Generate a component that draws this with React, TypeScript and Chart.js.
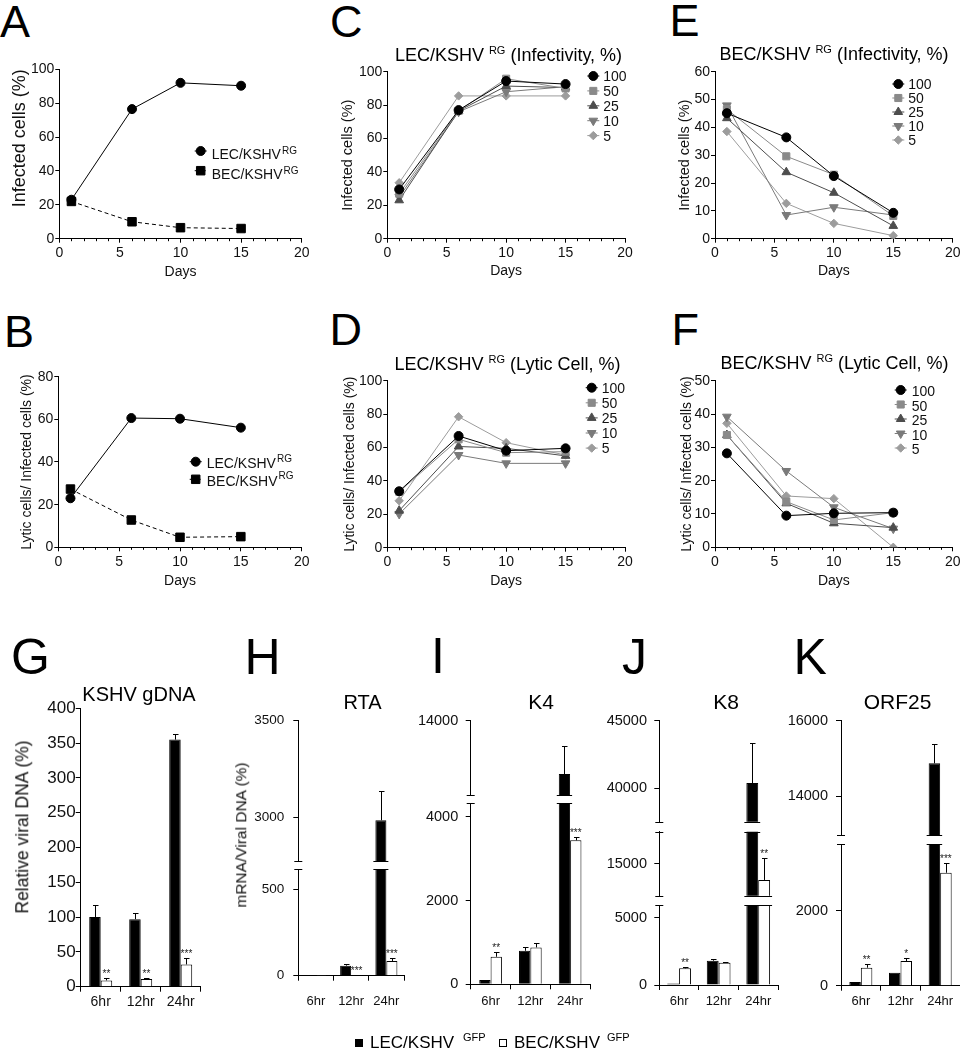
import React, { useEffect, useRef } from 'react';
import { Chart, registerables } from 'chart.js';

Chart.register(...registerables);

const FONT = '"Liberation Sans", Arial, Helvetica, sans-serif';
const INK = '#111111';
Chart.defaults.font.family = FONT;
Chart.defaults.color = INK;

// ---------------- Data: panels A–F (x = days) ----------------
const days = [1, 6, 10, 15];

const lecRG_A = [23, 76.5, 92, 90.3];
const becRG_A = [22, 10, 6.5, 6];
const lecRG_B = [23, 60.6, 60.3, 56.1];
const becRG_B = [27.3, 12.8, 4.7, 5];
const rgLabels = ['LEC/KSHV', 'BEC/KSHV'];

const doseLabels = ['100', '50', '25', '10', '5'];

const c100 = [29.5, 77, 94.4, 92.6];
const c50 = [27, 76.5, 95.8, 90];
const c25 = [23, 76.5, 91.4, 90.5];
const c10 = [25, 76, 88, 91];
const c5 = [33.5, 85.5, 85.5, 85.5];

const d100 = [33.8, 66.9, 58.1, 59.5];
const d50 = [33.5, 64.9, 56.9, 57.5];
const d25 = [22.2, 60.6, 59.5, 55];
const d10 = [20.2, 55.5, 50.5, 50.5];
const d5 = [28.1, 78.4, 62.9, 55.5];

const e100 = [45.1, 36.4, 22.5, 9.3];
const e50 = [46.5, 29.6, 23, 8.2];
const e25 = [43.3, 23.9, 16.5, 4.6];
const e10 = [47.9, 8.5, 11.3, 8.5];
const e5 = [38.5, 12.7, 5.5, 1.1];

const f100 = [28.2, 9.5, 10.2, 10.4];
const f50 = [33.7, 13.7, 8.2, 10.4];
const f25 = [33.7, 13.2, 7.2, 5.9];
const f10 = [39.2, 22.9, 12, 5.6];
const f5 = [37.2, 15.4, 14.6, 0];

// ---------------- Data: panels G–K ----------------
const timeLabels = ['6hr', '12hr', '24hr'];

const gLEC = [100, 97, 355];
const gLECerr = [18, 9, 8];
const gBEC = [9, 11, 32];
const gBECerr = [4, 2, 9];
const gStars = ['**', '**', '***'];
const gTicks = [0, 50, 100, 150, 200, 250, 300, 350, 400];

const hLEC = [1, 58, 2985];
const hLECerr = [0, 8, 150];
const hBEC = [0.5, 3, 85];
const hBECerr = [0, 1, 15];
const hStars = ['', '***', '***'];
const hTicksUpper = [3000, 3500];
const hTicksLower = [0, 500];
const hRangeUpper = [2774, 3500];
const hRangeLower = [0, 614];

const iLEC = [100, 800, 11130];
const iLECerr = [0, 80, 1520];
const iBEC = [657, 880, 3436];
const iBECerr = [119, 110, 71];
const iStars = ['**', '', '***'];
const iTicksUpper = [14000];
const iTicksLower = [0, 2000, 4000];
const iRangeUpper = [10000, 14000];
const iRangeLower = [0, 4320];

const jLEC = [110, 1805, 40370];
const jLECerr = [0, 105, 2960];
const jBEC = [1240, 1657, 13730];
const jBECerr = [120, 73, 1690];
const jStars = ['**', '', '**'];
const jTicksUpper = [40000, 45000];
const jTicksMiddle = [15000];
const jTicksLower = [0, 5000];
const jRangeUpper = [37500, 45000];
const jRangeMiddle = [12500, 17500];
const jRangeLower = [0, 5920];

const kLEC = [100, 347, 14868];
const kLECerr = [0, 0, 505];
const kBEC = [480, 659, 3013];
const kBECerr = [90, 71, 251];
const kStars = ['**', '*', '***'];
const kTicksUpper = [14000, 16000];
const kTicksLower = [0, 2000];
const kRangeUpper = [12965, 16000];
const kRangeLower = [0, 3780];

const gfpLabels = ['LEC/KSHV', 'BEC/KSHV'];

// ---------------- Styles ----------------
const abStyles = [
  { color: '#000', style: 'circle', rot: 0, r: 4.5, dash: [] as number[] },
  { color: '#000', style: 'rect', rot: 0, r: 6, dash: [4, 3] },
];
const doseStyles = [
  { color: '#000000', style: 'circle', rot: 0, r: 4.5, dash: [] as number[] },
  { color: '#8a8a8a', style: 'rect', rot: 0, r: 5, dash: [] as number[] },
  { color: '#4d4d4d', style: 'triangle', rot: 0, r: 5, dash: [] as number[] },
  { color: '#7a7a7a', style: 'triangle', rot: 180, r: 5, dash: [] as number[] },
  { color: '#9c9c9c', style: 'rectRot', rot: 0, r: 4.2, dash: [] as number[] },
];

type Rect = { x: number; y: number; w: number; h: number };

function drawMarker(ctx: CanvasRenderingContext2D, style: string, x: number, y: number, r: number, rot: number, color: string) {
  ctx.save();
  ctx.fillStyle = color;
  ctx.strokeStyle = color;
  ctx.lineWidth = 1;
  ctx.beginPath();
  if (style === 'circle') {
    ctx.arc(x, y, r, 0, Math.PI * 2);
  } else if (style === 'rect') {
    const s = Math.SQRT1_2 * r;
    ctx.rect(x - s, y - s, 2 * s, 2 * s);
  } else if (style === 'rectRot') {
    ctx.moveTo(x, y - r);
    ctx.lineTo(x + r, y);
    ctx.lineTo(x, y + r);
    ctx.lineTo(x - r, y);
    ctx.closePath();
  } else {
    let a = (rot * Math.PI) / 180;
    ctx.moveTo(x + Math.sin(a) * r, y - Math.cos(a) * r);
    a += (2 * Math.PI) / 3;
    ctx.lineTo(x + Math.sin(a) * r, y - Math.cos(a) * r);
    a += (2 * Math.PI) / 3;
    ctx.lineTo(x + Math.sin(a) * r, y - Math.cos(a) * r);
    ctx.closePath();
  }
  ctx.fill();
  ctx.stroke();
  ctx.restore();
}

const minorTicks = {
  id: 'minorTicks',
  afterDraw(chart: any) {
    const xs = chart.scales.x;
    const ctx = chart.ctx;
    const b = chart.chartArea.bottom;
    ctx.save();
    ctx.strokeStyle = '#000';
    ctx.lineWidth = 1;
    ctx.beginPath();
    for (let v = 1; v < 20; v++) {
      if (v % 5 === 0) continue;
      const px = Math.round(xs.getPixelForValue(v)) + 0.5;
      ctx.moveTo(px, b);
      ctx.lineTo(px, b + 2.5);
    }
    ctx.stroke();
    ctx.restore();
  },
};

function lineLegend(spec: any) {
  const lg = spec.legend;
  const cv = spec.canvas;
  return {
    id: 'panelLegend',
    afterDraw(chart: any) {
      const ctx = chart.ctx;
      spec.series.forEach((s: any, i: number) => {
        const my = lg.y0 + i * lg.dy - cv.y;
        const mx = lg.markerX - cv.x;
        ctx.save();
        ctx.strokeStyle = s.color;
        ctx.lineWidth = 1;
        ctx.setLineDash(s.dash || []);
        ctx.beginPath();
        ctx.moveTo(mx - 6, my);
        ctx.lineTo(mx + 6, my);
        ctx.stroke();
        ctx.restore();
        drawMarker(ctx, s.style, mx, my, s.r, s.rot, s.color);
        ctx.save();
        ctx.fillStyle = INK;
        ctx.font = `${lg.size}px ${FONT}`;
        ctx.textAlign = 'left';
        ctx.textBaseline = 'alphabetic';
        const tx = lg.textX - cv.x;
        ctx.fillText(s.label, tx, my + lg.textDy);
        if (lg.sup) {
          const w = ctx.measureText(s.label).width;
          ctx.font = `${lg.supSize}px ${FONT}`;
          ctx.fillText(lg.sup, tx + w + 1, my + lg.supDy);
        }
        ctx.restore();
      });
    },
  };
}

function lineConfig(spec: any) {
  const c = spec.canvas;
  const padTop = spec.plot.t - c.y;
  const padRight = c.x + c.w - spec.plot.r;
  const yWidth = spec.plot.l - c.x;
  const xHeight = c.y + c.h - spec.plot.b;
  const yTitlePad = spec.yTitleX - c.x - (spec.yTitleSize * 1.2) / 2;
  const xTitlePad = c.y + c.h - spec.daysY - (14 * 1.2) / 2;
  return {
    type: 'line',
    data: {
      datasets: spec.series.map((s: any) => ({
        label: s.label,
        data: days.map((d, i) => ({ x: d, y: s.data[i] })),
        borderColor: s.color,
        backgroundColor: s.color,
        pointBackgroundColor: s.color,
        pointBorderColor: s.color,
        pointStyle: s.style,
        pointRotation: s.rot,
        pointRadius: s.r,
        pointBorderWidth: 1,
        borderWidth: 1,
        borderDash: s.dash,
        tension: 0,
        fill: false,
      })),
    },
    options: {
      responsive: false,
      animation: false,
      devicePixelRatio: 1,
      events: [],
      layout: { padding: { top: padTop, right: padRight, left: 0, bottom: 0 } },
      plugins: { legend: { display: false }, tooltip: { enabled: false }, title: { display: false } },
      scales: {
        x: {
          type: 'linear',
          min: 0,
          max: 20,
          ticks: { stepSize: 5, font: { size: 14 }, color: INK, padding: 2, maxRotation: 0, autoSkip: false },
          grid: { drawOnChartArea: false, drawTicks: true, tickLength: 4, color: '#000' },
          border: { color: '#000', width: 1 },
          title: { display: true, text: 'Days', color: INK, font: { size: 14 }, padding: { top: 0, bottom: xTitlePad } },
          afterFit: (sc: any) => {
            sc.height = xHeight;
            sc.paddingLeft = 0;
            sc.paddingRight = 0;
          },
        },
        y: {
          type: 'linear',
          min: 0,
          max: spec.yMax,
          ticks: { stepSize: spec.yStep, font: { size: 14 }, color: INK, padding: 1 },
          grid: { drawOnChartArea: false, drawTicks: true, tickLength: 4, color: '#000' },
          border: { color: '#000', width: 1 },
          title: {
            display: true,
            text: spec.yTitle,
            color: INK,
            align: spec.yTitleAlign || 'center',
            font: { size: spec.yTitleSize },
            padding: { top: yTitlePad, bottom: 0 },
          },
          afterFit: (sc: any) => {
            sc.width = yWidth;
            sc.paddingTop = 0;
            sc.paddingBottom = 0;
          },
        },
      },
    },
    plugins: [minorTicks, lineLegend(spec)],
  };
}

function barExtras(p: any, k: number) {
  const seg = p.segs[k];
  const last = p.segs.length - 1;
  const vals = [p.lec, p.bec];
  const errs = [p.lecErr, p.becErr];
  return {
    id: 'barExtras',
    afterDatasetsDraw(chart: any) {
      const ctx = chart.ctx;
      const ca = chart.chartArea;
      const ys = chart.scales.y;
      // error bars (upper only), clipped to the segment
      ctx.save();
      ctx.beginPath();
      ctx.rect(ca.left - 10, ca.top, ca.right - ca.left + 20, ca.bottom - ca.top);
      ctx.clip();
      ctx.strokeStyle = '#000';
      ctx.lineWidth = 1;
      for (let d = 0; d < 2; d++) {
        chart.getDatasetMeta(d).data.forEach((bar: any, i: number) => {
          const e = errs[d][i];
          if (!e) return;
          const x = Math.round(bar.x) + 0.5;
          const y0 = ys.getPixelForValue(vals[d][i]);
          const y1 = Math.round(ys.getPixelForValue(vals[d][i] + e)) + 0.5;
          ctx.beginPath();
          ctx.moveTo(x, y0);
          ctx.lineTo(x, y1);
          ctx.moveTo(x - 2.5, y1);
          ctx.lineTo(x + 3, y1);
          ctx.stroke();
        });
      }
      ctx.restore();
      // axis breaks
      ctx.save();
      ctx.strokeStyle = '#000';
      ctx.lineWidth = 1;
      const edges: any[] = [];
      if (k > 0) edges.push({ y: ca.top, test: (v: number) => v > seg.max });
      if (k < last) edges.push({ y: ca.bottom, test: (v: number) => v > seg.min });
      edges.forEach((ed) => {
        const yy = Math.round(ed.y) + 0.5;
        ctx.beginPath();
        ctx.moveTo(ca.left - 4, yy);
        ctx.lineTo(ca.left + 4, yy);
        for (let d = 0; d < 2; d++) {
          chart.getDatasetMeta(d).data.forEach((bar: any, i: number) => {
            if (ed.test(vals[d][i])) {
              const w = bar.width;
              ctx.moveTo(bar.x - w / 2 - 2, yy);
              ctx.lineTo(bar.x + w / 2 + 2, yy);
            }
          });
        }
        ctx.stroke();
      });
      // significance stars
      ctx.fillStyle = '#222';
      ctx.font = `10px ${FONT}`;
      ctx.textAlign = 'center';
      ctx.textBaseline = 'alphabetic';
      chart.getDatasetMeta(1).data.forEach((bar: any, i: number) => {
        const s = p.stars[i];
        if (!s) return;
        const top = p.bec[i] + p.becErr[i];
        if (top < seg.min || top > seg.max) return;
        ctx.fillText(s, bar.x, ys.getPixelForValue(top) - 1);
      });
      ctx.restore();
    },
  };
}

function segRect(p: any, k: number): Rect {
  const seg = p.segs[k];
  const x = Math.floor(p.axisX - 78);
  const right = Math.min(960, Math.ceil(p.right + 4));
  const y = Math.floor(seg.top - 12);
  const bottom = k === p.segs.length - 1 ? 1016 : Math.ceil(seg.bottom + 6);
  return { x, y, w: right - x, h: bottom - y };
}

function barSegConfig(p: any, k: number, rect: Rect) {
  const seg = p.segs[k];
  const last = p.segs.length - 1;
  const showX = k === last;
  const padTop = seg.top - rect.y;
  const padRight = rect.x + rect.w - p.right;
  const yWidth = p.axisX - rect.x;
  const below = rect.y + rect.h - seg.bottom;
  const xLabelPad = 1001.7 - seg.bottom - 5 - (p.xFont * 1.2) / 2;
  const ds = (label: string, data: number[], fill: string) => ({
    label,
    data,
    backgroundColor: fill,
    borderColor: '#000',
    borderWidth: 1,
    borderSkipped: 'start',
    categoryPercentage: p.catPct,
    barPercentage: 1,
    clip: 0,
  });
  return {
    type: 'bar',
    data: {
      labels: timeLabels,
      datasets: [ds(gfpLabels[0] + ' GFP', p.lec, '#000'), ds(gfpLabels[1] + ' GFP', p.bec, '#fff')],
    },
    options: {
      responsive: false,
      animation: false,
      devicePixelRatio: 1,
      events: [],
      layout: { padding: { top: padTop, right: padRight, left: 0, bottom: showX ? 0 : below } },
      plugins: { legend: { display: false }, tooltip: { enabled: false }, title: { display: false } },
      scales: {
        x: showX
          ? {
              type: 'category',
              offset: true,
              grid: { offset: true, drawOnChartArea: false, drawTicks: true, tickLength: 5, color: '#000' },
              border: { color: '#000', width: 1 },
              ticks: { font: { size: p.xFont }, color: INK, padding: xLabelPad, maxRotation: 0, autoSkip: false },
              afterFit: (sc: any) => {
                sc.height = below;
                sc.paddingLeft = 0;
                sc.paddingRight = 0;
              },
            }
          : { type: 'category', offset: true, display: false },
        y: {
          type: 'linear',
          min: seg.min,
          max: seg.max,
          afterBuildTicks: (sc: any) => {
            sc.ticks = seg.ticks.map((v: number) => ({ value: v }));
          },
          ticks: { font: { size: p.yFont }, color: INK, padding: p.yPad, callback: (v: any) => String(v) },
          grid: { drawOnChartArea: false, drawTicks: true, tickLength: 5, color: '#000' },
          border: { color: '#000', width: 1 },
          afterFit: (sc: any) => {
            sc.width = yWidth;
            sc.paddingTop = 0;
            sc.paddingBottom = 0;
          },
        },
      },
    },
    plugins: [barExtras(p, k)],
  };
}

// ---------------- Panel specs ----------------
const abSeries = (lec: number[], bec: number[]) => [
  { label: rgLabels[0], data: lec, ...abStyles[0] },
  { label: rgLabels[1], data: bec, ...abStyles[1] },
];
const doseSeries = (arrs: number[][]) => doseLabels.map((lab, i) => ({ label: lab, data: arrs[i], ...doseStyles[i] }));

const lineSpecs = [
  {
    key: 'A',
    canvas: { x: 0, y: 40, w: 320, h: 250 },
    plot: { l: 59.3, t: 69.3, r: 301.7, b: 238.7 },
    yMax: 100, yStep: 20, yTitle: 'Infected cells (%)', yTitleSize: 18, yTitleX: 20, yTitleAlign: 'end', daysY: 272.5,
    series: abSeries(lecRG_A, becRG_A),
    legend: { markerX: 200.7, textX: 211.7, y0: 151, dy: 19.7, size: 14, textDy: 8.3, sup: 'RG', supSize: 10, supDy: 3 },
  },
  {
    key: 'B',
    canvas: { x: 0, y: 340, w: 320, h: 250 },
    plot: { l: 58.3, t: 376.7, r: 301.7, b: 547.3 },
    yMax: 80, yStep: 20, yTitle: 'Lytic cells/ Infected cells (%)', yTitleSize: 14, yTitleX: 27, daysY: 581,
    series: abSeries(lecRG_B, becRG_B),
    legend: { markerX: 195.7, textX: 206.7, y0: 461.7, dy: 17.6, size: 14, textDy: 6.6, sup: 'RG', supSize: 10, supDy: 0 },
  },
  {
    key: 'C',
    canvas: { x: 320, y: 40, w: 320, h: 250 },
    plot: { l: 387.3, t: 71.7, r: 625, b: 238.7 },
    yMax: 100, yStep: 20, yTitle: 'Infected cells (%)', yTitleSize: 14.5, yTitleX: 348.3, daysY: 271,
    series: doseSeries([c100, c50, c25, c10, c5]),
    legend: { markerX: 593.3, textX: 603.3, y0: 76, dy: 14.9, size: 14, textDy: 5 },
  },
  {
    key: 'D',
    canvas: { x: 320, y: 340, w: 320, h: 250 },
    plot: { l: 387.3, t: 380.7, r: 625, b: 547.7 },
    yMax: 100, yStep: 20, yTitle: 'Lytic cells/ Infected cells (%)', yTitleSize: 14, yTitleX: 350, daysY: 581.5,
    series: doseSeries([d100, d50, d25, d10, d5]),
    legend: { markerX: 591.7, textX: 601.7, y0: 387.7, dy: 15.1, size: 14, textDy: 5 },
  },
  {
    key: 'E',
    canvas: { x: 640, y: 40, w: 320, h: 250 },
    plot: { l: 715, t: 71.7, r: 952.7, b: 238.7 },
    yMax: 60, yStep: 10, yTitle: 'Infected cells (%)', yTitleSize: 14.5, yTitleX: 685, daysY: 271,
    series: doseSeries([e100, e50, e25, e10, e5]),
    legend: { markerX: 898.3, textX: 908.3, y0: 84, dy: 14, size: 14, textDy: 5.3 },
  },
  {
    key: 'F',
    canvas: { x: 640, y: 340, w: 320, h: 250 },
    plot: { l: 715, t: 380.7, r: 952.7, b: 547.3 },
    yMax: 50, yStep: 10, yTitle: 'Lytic cells/ Infected cells (%)', yTitleSize: 14, yTitleX: 686.7, daysY: 581,
    series: doseSeries([f100, f50, f25, f10, f5]),
    legend: { markerX: 900.7, textX: 911.7, y0: 390, dy: 14.5, size: 14, textDy: 6 },
  },
];

const barPanels = [
  {
    key: 'G', axisX: 80.7, right: 200.7, catPct: 0.575, yFont: 17, yPad: 0, xFont: 14,
    lec: gLEC, lecErr: gLECerr, bec: gBEC, becErr: gBECerr, stars: gStars,
    segs: [{ min: 0, max: 400, ticks: gTicks, top: 708.3, bottom: 986.7 }],
  },
  {
    key: 'H', axisX: 298.3, right: 404, catPct: 0.625, yFont: 13.5, yPad: 9, xFont: 13,
    lec: hLEC, lecErr: hLECerr, bec: hBEC, becErr: hBECerr, stars: hStars,
    segs: [
      { min: hRangeUpper[0], max: hRangeUpper[1], ticks: hTicksUpper, top: 720.7, bottom: 861 },
      { min: hRangeLower[0], max: hRangeLower[1], ticks: hTicksLower, top: 869.3, bottom: 975.7 },
    ],
  },
  {
    key: 'I', axisX: 470.7, right: 590, catPct: 0.57, yFont: 14.5, yPad: 7.5, xFont: 13,
    lec: iLEC, lecErr: iLECerr, bec: iBEC, becErr: iBECerr, stars: iStars,
    segs: [
      { min: iRangeUpper[0], max: iRangeUpper[1], ticks: iTicksUpper, top: 720.7, bottom: 795 },
      { min: iRangeLower[0], max: iRangeLower[1], ticks: iTicksLower, top: 803.3, bottom: 984.3 },
    ],
  },
  {
    key: 'J', axisX: 659.3, right: 778, catPct: 0.6, yFont: 14.5, yPad: 7.3, xFont: 13,
    lec: jLEC, lecErr: jLECerr, bec: jBEC, becErr: jBECerr, stars: jStars,
    segs: [
      { min: jRangeUpper[0], max: jRangeUpper[1], ticks: jTicksUpper, top: 720.7, bottom: 821.7 },
      { min: jRangeMiddle[0], max: jRangeMiddle[1], ticks: jTicksMiddle, top: 831.7, bottom: 895.7 },
      { min: jRangeLower[0], max: jRangeLower[1], ticks: jTicksLower, top: 905.3, bottom: 985 },
    ],
  },
  {
    key: 'K', axisX: 841, right: 960, catPct: 0.58, yFont: 14.5, yPad: 8, xFont: 13,
    lec: kLEC, lecErr: kLECerr, bec: kBEC, becErr: kBECerr, stars: kStars,
    segs: [
      { min: kRangeUpper[0], max: kRangeUpper[1], ticks: kTicksUpper, top: 720.7, bottom: 835 },
      { min: kRangeLower[0], max: kRangeLower[1], ticks: kTicksLower, top: 844, bottom: 985.7 },
    ],
  },
];

// ---------------- Components ----------------
function ChartBox({ rect, build }: { rect: Rect; build: () => any }) {
  const ref = useRef<HTMLCanvasElement | null>(null);
  useEffect(() => {
    if (!ref.current) return undefined;
    const chart = new Chart(ref.current, build());
    return () => chart.destroy();
  }, []);
  return (
    <canvas
      ref={ref}
      width={rect.w}
      height={rect.h}
      style={{ position: 'absolute', left: rect.x, top: rect.y, width: rect.w, height: rect.h }}
    />
  );
}

function Sup({ size, dy, children }: { size: number; dy: number; children: any }) {
  return (
    <span style={{ fontSize: size, position: 'relative', top: -dy, lineHeight: 0, verticalAlign: 'baseline' }}>{children}</span>
  );
}

// text positioned by its baseline
function T({ x, base, size, center, children }: { x: number; base: number; size: number; center?: boolean; children: any }) {
  const top = base - 0.8465 * size;
  const style: any = {
    position: 'absolute',
    top,
    fontSize: size,
    lineHeight: `${size}px`,
    whiteSpace: 'nowrap',
    color: '#000',
  };
  if (center) {
    style.left = x - 300;
    style.width = 600;
    style.textAlign = 'center';
  } else {
    style.left = x;
  }
  return <div style={style}>{children}</div>;
}

function VTitle({ cx, cy, size, children }: { cx: number; cy: number; size: number; children: any }) {
  return (
    <div
      style={{
        position: 'absolute',
        left: cx,
        top: cy,
        fontSize: size,
        lineHeight: `${size}px`,
        whiteSpace: 'nowrap',
        color: INK,
        transform: 'translate(-50%, -50%) rotate(-90deg)',
      }}
    >
      {children}
    </div>
  );
}

const letters = [
  { t: 'A', x: 0, base: 37.5, size: 45 },
  { t: 'B', x: 4, base: 347, size: 45 },
  { t: 'C', x: 330, base: 37, size: 45 },
  { t: 'D', x: 329.5, base: 345, size: 45 },
  { t: 'E', x: 669.5, base: 36, size: 45 },
  { t: 'F', x: 671.5, base: 345, size: 45 },
  { t: 'G', x: 11, base: 674, size: 50 },
  { t: 'H', x: 244.5, base: 674, size: 50 },
  { t: 'I', x: 431, base: 673, size: 50 },
  { t: 'J', x: 622, base: 674, size: 50 },
  { t: 'K', x: 793.5, base: 674, size: 50 },
];

export default function App() {
  return (
    <div
      style={{
        position: 'absolute',
        left: 0,
        top: 0,
        width: 960,
        height: 1050,
        background: '#fff',
        fontFamily: FONT,
        color: '#000',
        overflow: 'hidden',
      }}
    >
      {letters.map((l) => (
        <T key={l.t} x={l.x} base={l.base} size={l.size}>
          {l.t}
        </T>
      ))}

      {lineSpecs.map((s) => (
        <ChartBox key={s.key} rect={s.canvas} build={() => lineConfig(s)} />
      ))}

      <T x={508.5} base={61.4} size={18} center>
        LEC/KSHV <Sup size={11} dy={7}>RG</Sup> (Infectivity, %)
      </T>
      <T x={507.5} base={370.4} size={18} center>
        LEC/KSHV <Sup size={11} dy={7}>RG</Sup> (Lytic Cell, %)
      </T>
      <T x={834} base={60.4} size={18} center>
        BEC/KSHV <Sup size={11} dy={7}>RG</Sup> (Infectivity, %)
      </T>
      <T x={834.5} base={369.7} size={18} center>
        BEC/KSHV <Sup size={11} dy={7}>RG</Sup> (Lytic Cell, %)
      </T>

      {barPanels.map((p) =>
        p.segs.map((_, k) => {
          const r = segRect(p, k);
          return <ChartBox key={p.key + k} rect={r} build={() => barSegConfig(p, k, r)} />;
        })
      )}

      <T x={139} base={700.5} size={20} center>KSHV gDNA</T>
      <T x={362.5} base={708.9} size={20} center>RTA</T>
      <T x={541} base={708.9} size={21} center>K4</T>
      <T x={726} base={708.9} size={21} center>K8</T>
      <T x={897.5} base={708.9} size={21} center>ORF25</T>

      <VTitle cx={22.5} cy={826.5} size={17.5}>Relative viral DNA (%)</VTitle>
      <VTitle cx={241} cy={834.5} size={15.5}>mRNA/Viral DNA (%)</VTitle>

      <div style={{ position: 'absolute', left: 355, top: 1039, width: 8, height: 8, background: '#000' }} />
      <T x={370} base={1048} size={17}>{gfpLabels[0]}</T>
      <T x={463} base={1041.5} size={11}>GFP</T>
      <div style={{ position: 'absolute', left: 499, top: 1039, width: 6, height: 6, background: '#fff', border: '1px solid #000' }} />
      <T x={514} base={1048} size={17}>{gfpLabels[1]}</T>
      <T x={607} base={1041.5} size={11}>GFP</T>
    </div>
  );
}
